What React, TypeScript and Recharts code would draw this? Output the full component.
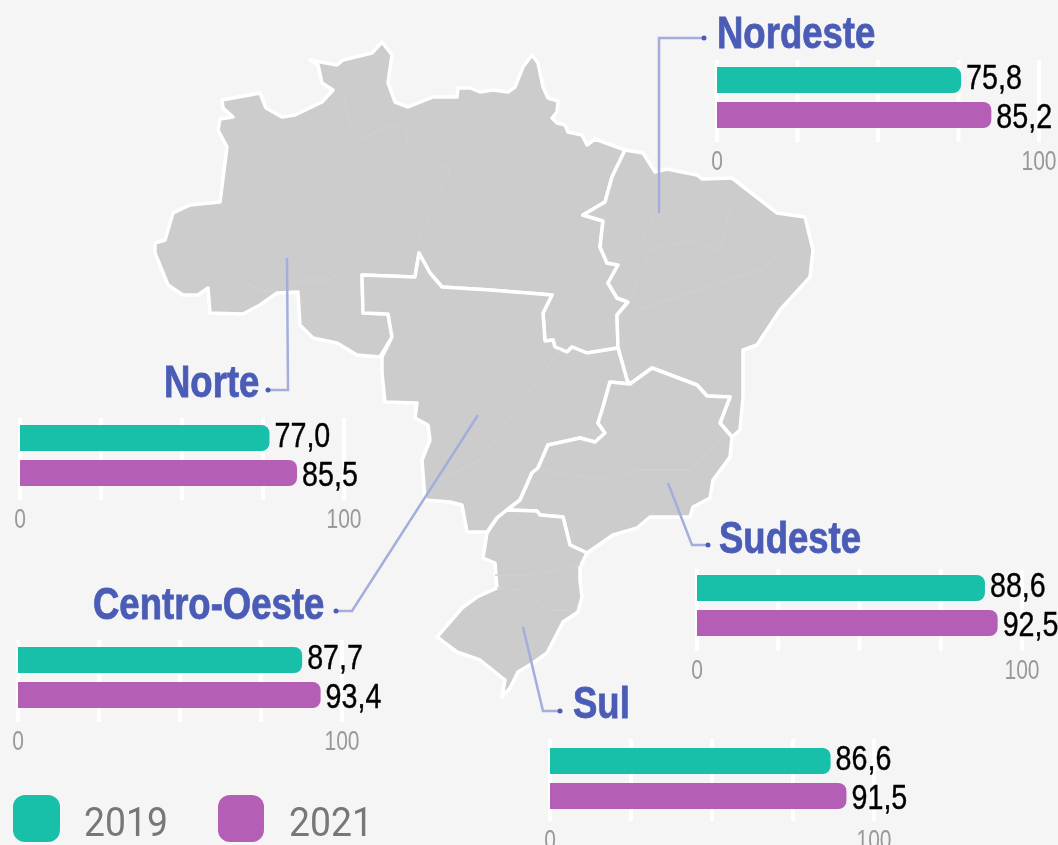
import { BarChart, Bar, XAxis, YAxis, CartesianGrid, LabelList } from "recharts";

const regions = ["Nordeste", "Norte", "Centro-Oeste", "Sudeste", "Sul"];
const values2019 = [75.8, 77.0, 87.7, 88.6, 86.6];
const values2021 = [85.2, 85.5, 93.4, 92.5, 91.5];
const axisTicks = [0, 25, 50, 75, 100];
const years = ["2019", "2021"];

const TEAL = "#18bfa9";
const PURPLE = "#b55eb5";
const TITLE = "#4a5cb5";
const SANS = "'Liberation Sans', sans-serif";

// where each small chart sits on the page: x of 0, x of 100, top of the white grid lines
const chartBoxes = [
  { x0: 717, x100: 1039, top: 60, pad: 6 },
  { x0: 20, x100: 344, top: 418, pad: 6 },
  { x0: 18, x100: 342, top: 640, pad: 6 },
  { x0: 697, x100: 1022, top: 569, pad: 5 },
  { x0: 550, x100: 874, top: 739, pad: 8 },
];

const titleBoxes = [
  { x: 717, y: 48 },
  { x: 164, y: 397 },
  { x: 93, y: 619 },
  { x: 719, y: 553 },
  { x: 573, y: 718 },
];

const leaders = [
  "659,213 659,38 706,38",
  "287,258 288,390 270,390",
  "478,415 352,611 338,611",
  "668,483 692,545 710,545",
  "523,627 543,711 562,711",
];

// map outline, traced by hand
const mapNorte =
  "222,100 260,93 266,108 282,117 295,115 322,102 333,90 322,83 318,65 310,60 337,65 343,60 372,53 382,42 392,55 388,83 395,102 408,107 433,97 457,97 458,88 470,88 480,92 493,90 508,92 515,87 523,67 532,55 538,63 543,87 548,98 558,101 557,112 552,118 557,123 565,125 568,132 582,135 587,145 595,139 625,150 612,177 605,202 583,215 603,221 600,247 607,263 618,265 608,283 617,298 628,302 617,315 618,348 587,353 572,347 567,352 555,347 553,340 545,341 543,313 552,295 490,290 442,287 430,273 419,253 415,277 362,275 363,313 388,314 392,337 380,357 357,355 337,343 313,338 300,325 298,292 277,293 260,305 243,314 210,313 208,288 198,295 183,295 168,285 155,253 155,243 165,240 173,213 190,205 220,202 227,147 218,130 220,119 233,117 223,108";
const mapNordeste =
  "625,150 643,153 655,172 667,169 697,175 702,179 732,178 777,213 805,217 813,250 810,277 780,310 757,345 743,350 743,397 740,430 732,437 720,423 730,397 707,396 697,385 652,368 630,384 627,380 618,348 617,315 628,302 617,298 608,283 618,265 607,263 600,247 603,221 583,215 605,202 612,177";
const mapCentroOeste =
  "362,275 415,277 419,253 430,273 442,287 490,290 552,295 543,313 545,341 553,340 555,347 567,352 572,347 587,353 618,348 627,380 630,384 610,382 603,407 598,423 605,433 595,442 580,438 548,445 538,468 532,473 520,500 507,510 497,518 487,532 467,532 462,505 450,502 425,500 422,460 430,440 428,425 415,418 417,403 385,402 382,373 382,357 392,337 388,314 363,313";
const mapSudeste =
  "630,384 652,368 697,385 707,396 730,397 720,423 732,437 730,457 713,480 710,498 693,507 690,517 650,517 637,528 613,535 587,553 570,545 563,517 540,515 537,511 507,510 520,500 532,473 538,468 548,445 580,438 595,442 605,433 598,423 603,407 610,382";
const mapSul =
  "507,510 537,511 540,515 563,517 570,545 587,553 580,567 580,580 582,597 578,612 563,622 547,653 533,663 518,672 510,688 502,697 505,680 480,660 457,652 437,637 462,608 477,597 497,588 495,563 483,558 487,533 497,518";
const stateLines = [
  "343,90 348,120 360,140 385,127 405,125 408,145 430,160 450,170 430,215 415,245",
  "220,260 250,285 265,292 300,280 330,280 345,265",
  "640,245 660,205 680,180",
  "630,300 650,250 690,240 720,250 730,210",
  "640,310 700,290 760,270 800,240",
  "540,470 600,480 640,470 690,470 720,440",
  "495,575 530,575 580,565",
  "497,588 520,590 550,610 570,610",
  "440,480 480,460 530,390 560,350",
];

const comma = (v: number) => v.toFixed(1).replace(".", ",");

// no narrow font is installed, so the text is squeezed sideways
function NarrowText({ x, y, scaleX, anchor, children, ...rest }: any) {
  return (
    <text transform={`translate(${x},${y}) scale(${scaleX},1)`} textAnchor={anchor} fontFamily={SANS} {...rest}>
      {children}
    </text>
  );
}

function AxisTick({ x, y, payload }: any) {
  if (payload.value !== 0 && payload.value !== 100) return null;
  return (
    <NarrowText x={x} y={y + 22} scaleX={0.75} anchor="middle" fontSize={28} fill="#999999">
      {payload.value}
    </NarrowText>
  );
}

function valueLabel(lift: number) {
  return ({ x, y, width, height, value }: any) => (
    <NarrowText
      x={x + width + 5}
      y={y + height / 2 + 12 + lift}
      scaleX={0.82}
      fontSize={35}
      fill="#000000"
      stroke="#000000"
      strokeWidth={0.4}
    >
      {comma(value)}
    </NarrowText>
  );
}

function RegionChart({ index }: { index: number }) {
  const box = chartBoxes[index];
  const row = [{ region: regions[index], y2019: values2019[index], y2021: values2021[index] }];
  const left = 24;
  const right = 60;
  const plot = box.x100 - box.x0;
  return (
    <div style={{ position: "absolute", left: box.x0 - left, top: box.top }}>
      <BarChart
        width={plot + left + right}
        height={130}
        layout="vertical"
        data={row}
        barSize={26}
        barGap={9}
        margin={{ top: 0, right, bottom: 0, left }}
      >
        <CartesianGrid horizontal={false} stroke="#ffffff" strokeWidth={4} />
        <XAxis
          type="number"
          domain={[0, 100]}
          ticks={axisTicks}
          interval={0}
          height={48}
          axisLine={false}
          tickLine={false}
          tickMargin={0}
          tick={AxisTick}
        />
        <YAxis type="category" dataKey="region" hide padding={{ top: box.pad, bottom: 20 - box.pad }} />
        <Bar dataKey="y2019" fill={TEAL} radius={[0, 8, 8, 0]} isAnimationActive={false}>
          <LabelList dataKey="y2019" content={valueLabel(-3)} />
        </Bar>
        <Bar dataKey="y2021" fill={PURPLE} radius={[0, 8, 8, 0]} isAnimationActive={false}>
          <LabelList dataKey="y2021" content={valueLabel(1)} />
        </Bar>
      </BarChart>
    </div>
  );
}

export default function App() {
  return (
    <div
      style={{
        position: "absolute",
        left: 0,
        top: 0,
        width: 1058,
        height: 845,
        overflow: "hidden",
        background: "#f5f5f5",
        filter: "blur(0.4px)",
      }}
    >
      <svg width={1058} height={845} style={{ position: "absolute", left: 0, top: 0 }}>
        {[mapNorte, mapNordeste, mapCentroOeste, mapSudeste, mapSul].map((pts, i) => (
          <polygon key={i} points={pts} fill="#cccccc" stroke="#ffffff" strokeWidth={3.5} strokeLinejoin="round" />
        ))}
        {stateLines.map((pts, i) => (
          <polyline key={i} points={pts} fill="none" stroke="#cfcfcf" strokeWidth={1.5} />
        ))}
        {leaders.map((pts, i) => {
          const end = pts.split(" ").pop()!.split(",");
          return (
            <g key={i}>
              <polyline points={pts} fill="none" stroke="#a4aedd" strokeWidth={2.5} />
              <circle cx={Number(end[0]) - 2} cy={Number(end[1])} r={2.5} fill={TITLE} />
            </g>
          );
        })}
        {regions.map((name, i) => (
          <NarrowText
            key={name}
            x={titleBoxes[i].x}
            y={titleBoxes[i].y}
            scaleX={0.83}
            fontWeight={700}
            fontSize={44}
            fill={TITLE}
            stroke={TITLE}
            strokeWidth={0.8}
          >
            {name}
          </NarrowText>
        ))}
        <rect x={13} y={795} width={47} height={47} rx={12} fill={TEAL} />
        <rect x={218} y={795} width={46} height={47} rx={12} fill={PURPLE} />
        <text
          transform="translate(84,836) scale(0.91,1)"
          fontFamily="Roboto, sans-serif"
          fontWeight={400}
          fontSize={41}
          fill="#777777"
        >
          {years[0]}
        </text>
        <text
          transform="translate(289,836) scale(0.91,1)"
          fontFamily="Roboto, sans-serif"
          fontWeight={400}
          fontSize={41}
          fill="#777777"
        >
          {years[1]}
        </text>
      </svg>
      {regions.map((name, i) => (
        <RegionChart key={name} index={i} />
      ))}
    </div>
  );
}
